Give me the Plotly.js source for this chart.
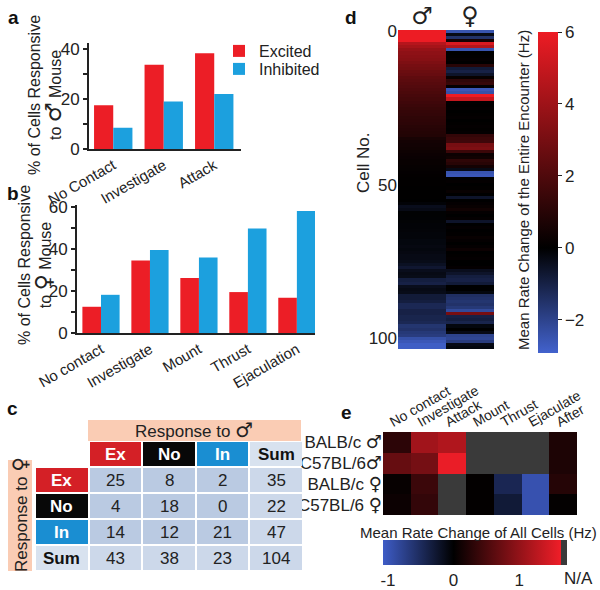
<!DOCTYPE html>
<html><head><meta charset="utf-8">
<script src="https://cdn.plot.ly/plotly-3.0.1.min.js"></script>
<style>body{margin:0;background:#fff}#chart{width:600px;height:590px}</style>
</head><body><div id="chart"></div>
<script>
// ---- Panel a: responses to male mouse (%) ----
const maleBehaviors = ['No Contact', 'Investigate', 'Attack'];
const maleExcited = [17.5, 33.7, 38.3];
const maleInhibited = [8.5, 19.0, 22.0];

// ---- Panel b: responses to female mouse (%) ----
const femaleBehaviors = ['No contact', 'Investigate', 'Mount', 'Thrust', 'Ejaculation'];
const femaleExcited = [12.5, 34.6, 26.2, 19.5, 16.8];
const femaleInhibited = [18.2, 39.5, 36.0, 49.8, 58.2];

// ---- Panel c: contingency table (rows: response to female, cols: response to male) ----
const responseLabels = ['Ex', 'No', 'In', 'Sum'];
const tableValues = [
  [25, 8, 2, 35],
  [4, 18, 0, 22],
  [14, 12, 21, 47],
  [43, 38, 23, 104]
];

// ---- Panel d: mean rate change per cell (Hz) ----
const cellMale = [
  6.5, 6.4, 6.2, 6.0, 4.6, 4.2, 3.8, 3.6, 3.5, 3.4,
  3.2, 3.0, 2.9, 2.7, 2.6, 2.4, 2.3, 2.2, 2.1, 2.0,
  1.9, 1.8, 1.7, 1.6, 1.5, 1.4, 1.35, 1.3, 1.2, 1.15,
  1.1, 1.0, 0.95, 0.9, 0.85, 0.6, 0.5, 0.45, 0.4, 0.35,
  0.3, 0.25, 0.2, 0.2, 0.15, 0.12, 0.1, 0.08, 0.06, 0.05,
  0.04, 0.03, 0.02, 0.02, 0.01, 0.0, -0.1, -0.4, -0.3, -0.05,
  -0.05, -0.06, -0.08, -0.1, -0.1, -0.12, -0.15, -0.15, -0.2, -0.2,
  -0.25, -0.2, -0.25, -0.3, -0.3, -0.35, -0.5, -0.7, -0.4, -0.3,
  -0.35, -0.9, -1.0, -0.4, -0.3, -0.35, -0.8, -0.8, -0.9, -1.2,
  -1.2, -1.0, -1.0, -1.1, -1.1, -1.2, -1.6, -1.5, -1.7, -1.8,
  -2.4, -2.6, -2.8, -2.8
];
const cellFemale = [
  -2.5, -0.3, -1.5, 0.5, 5.5, 4.5, -2.5, 0.0, 0.05, 0.1,
  0.0, 1.0, -0.8, -1.0, -0.6, 0.2, 1.2, 1.4, 0.1, -2.6,
  -2.4, 6.2, 5.0, 0.1, 0.05, 0.1, 0.0, 0.05, 0.1, 0.0,
  0.05, 0.1, 0.05, 0.1, 1.3, 1.5, 1.6, 3.0, 3.2, 1.5,
  0.3, 0.4, 1.2, 1.0, 0.5, -0.3, -2.5, -2.6, 0.0, 0.1,
  0.0, 0.05, 0.2, 0.0, -0.6, 0.0, 0.1, 0.2, 0.4, 0.1,
  0.0, 0.1, -0.6, 0.0, 0.1, 0.0, 0.05, 0.2, 0.1, 0.0,
  0.1, 0.3, 0.0, 0.05, 0.1, 0.0, 0.0, 0.1, -0.4, -0.6,
  -0.9, -1.0, -0.8, 0.0, 0.0, -0.2, -1.4, -1.5, -1.6, -1.5,
  -1.7, -2.2, 3.0, -1.0, -0.9, -1.1, -0.2, 0.0, -0.3, -2.0,
  -2.1, -1.8, -0.3, -0.2
];
const sexLabels = ['\u2642', '\u2640'];

// ---- Panel e: mean rate change of all cells (Hz), null = N/A ----
const strains = ['BALB/c \u2642', 'C57BL/6\u2642', 'BALB/c \u2640', 'C57BL/6 \u2640'];
const phases = ['No contact', 'Investigate', 'Attack', 'Mount', 'Thrust', 'Ejaculate', 'After'];
const phaseRates = [
  [0.3, 1.1, 1.2, null, null, null, 0.2],
  [0.7, 0.8, 1.6, null, null, null, 0.2],
  [0.05, 0.4, null, 0.02, -0.45, -0.95, 0.25],
  [0.08, 0.35, null, 0.02, -0.3, -0.95, 0.03]
];

// ---- styles ----
const RED = 'rgb(236,30,38)';
const BLUE = 'rgb(28,160,222)';
const FONT = 'Liberation Sans, Arial, sans-serif';
const TXT = '#222';
const px = v => v / 600;
const py = v => 1 - v / 590;
const sym = (s, size) => s.replace(/([\u2642\u2640])/g, '<span style="font-family:DejaVu Sans;font-size:' + size + 'px"><b>$1</b></span>');

const cellIdx = cellMale.map((_, i) => i);
const zCells = cellMale.map((m, i) => [m, cellFemale[i]]);
const naMask = phaseRates.map(r => r.map(v => v === null ? 1 : null));

// table grid (heatmap of cell kinds): 1 Ex, 2 No, 3 In, 4 Sum label, 5 body, 6 sum cell
const tCols = [''].concat(responseLabels);
const labelKind = [1, 2, 3, 4];
const tableKinds = tCols.map((_, r) => tCols.map((_, c) => {
  if (r === 0 && c === 0) return null;
  if (r === 0) return labelKind[c - 1];
  if (c === 0) return labelKind[r - 1];
  return (r === 4 || c === 4) ? 6 : 5;
}));
const tableText = [];
tCols.forEach((_, r) => tCols.forEach((_, c) => {
  if (r === 0 && c === 0) return;
  let txt, col;
  if (r === 0 || c === 0) {
    const lab = responseLabels[(r === 0 ? c : r) - 1];
    txt = '<b>' + lab + '</b>';
    col = lab === 'Sum' ? '#111' : 'white';
  } else {
    txt = String(tableValues[r - 1][c - 1]);
    col = TXT;
  }
  tableText.push({text: txt, x: c, y: r, xref: 'x5', yref: 'y5', showarrow: false,
    xanchor: 'center', yanchor: 'middle', font: {size: 17, color: col, family: FONT}});
}));

const traces = [
  {type: 'bar', x: maleBehaviors, y: maleExcited, name: 'Excited', marker: {color: RED}, xaxis: 'x', yaxis: 'y', legend: 'legend'},
  {type: 'bar', x: maleBehaviors, y: maleInhibited, name: 'Inhibited', marker: {color: BLUE}, xaxis: 'x', yaxis: 'y', legend: 'legend2'},
  {type: 'bar', x: femaleBehaviors, y: femaleExcited, name: 'Excited', marker: {color: RED}, xaxis: 'x2', yaxis: 'y2', showlegend: false},
  {type: 'bar', x: femaleBehaviors, y: femaleInhibited, name: 'Inhibited', marker: {color: BLUE}, xaxis: 'x2', yaxis: 'y2', showlegend: false},
  {type: 'heatmap', x: [0, 1], y: cellIdx, z: zCells, xaxis: 'x3', yaxis: 'y3', showlegend: false,
   zmin: -2.92, zmax: 6,
   colorscale: [[0, 'rgb(66,98,205)'], [0.327, 'rgb(0,0,0)'], [1, 'rgb(237,28,36)']],
   colorbar: {x: px(538), xanchor: 'left', y: py(192.5), yanchor: 'middle', len: 321 / 590, thickness: 20,
     xpad: 0, ypad: 0, outlinewidth: 0, ticks: 'outside', ticklen: 4, tickcolor: '#222',
     tickvals: [-2, 0, 2, 4, 6], ticktext: ['\u22122', '0', '2', '4', '6'],
     tickfont: {size: 17, color: TXT, family: FONT}},
   hoverinfo: 'skip'},
  {type: 'heatmap', x: phases, y: strains, z: phaseRates, xaxis: 'x4', yaxis: 'y4', showlegend: false,
   zmin: -1.076, zmax: 1.73,
   colorscale: [[0, 'rgb(62,92,198)'], [0.3835, 'rgb(0,0,0)'], [0.968, 'rgb(240,30,40)'], [0.968, 'rgb(58,58,58)'], [1, 'rgb(58,58,58)']],
   colorbar: {orientation: 'h', x: px(475), xanchor: 'center', y: py(540), yanchor: 'top', len: 184 / 600, thickness: 25,
     xpad: 0, ypad: 0, outlinewidth: 0, ticks: '', tickvals: [-1, 0, 1], ticktext: ['-1', '0', '1'],
     tickfont: {size: 17, color: TXT, family: FONT}},
   hoverinfo: 'skip'},
  {type: 'heatmap', x: phases, y: strains, z: naMask, xaxis: 'x4', yaxis: 'y4', showscale: false, showlegend: false,
   colorscale: [[0, 'rgb(58,58,58)'], [1, 'rgb(58,58,58)']], hoverinfo: 'skip'},
  {type: 'heatmap', z: tableKinds, xaxis: 'x5', yaxis: 'y5', showscale: false, showlegend: false, xgap: 2, ygap: 2,
   zmin: 1, zmax: 6,
   colorscale: [[0, 'rgb(212,32,38)'], [0.1, 'rgb(212,32,38)'], [0.1, 'rgb(8,8,8)'], [0.3, 'rgb(8,8,8)'],
     [0.3, 'rgb(26,142,210)'], [0.5, 'rgb(26,142,210)'], [0.5, 'rgb(216,226,239)'], [0.7, 'rgb(216,226,239)'],
     [0.7, 'rgb(186,202,226)'], [0.9, 'rgb(186,202,226)'], [0.9, 'rgb(204,216,234)'], [1, 'rgb(204,216,234)']],
   hoverinfo: 'skip'}
];

const barAxisY = {showline: true, linewidth: 2, linecolor: '#222', ticks: 'outside', ticklen: 4, tickwidth: 1.5, tickcolor: '#222',
  showgrid: false, zeroline: false, tickfont: {size: 17, color: TXT, family: FONT}};
const barAxisX = {showline: true, linewidth: 2, linecolor: '#222', ticks: '', showgrid: false, zeroline: false,
  tickangle: -30, tickfont: {size: 15, color: TXT, family: FONT}, type: 'category'};
const ann = (text, x, y, size, extra) => Object.assign({text: text, x: px(x), y: py(y), xref: 'paper', yref: 'paper',
  showarrow: false, xanchor: 'center', yanchor: 'middle', font: {size: size, color: TXT, family: FONT}}, extra || {});
const legendBase = {xanchor: 'left', yanchor: 'middle', font: {size: 16, color: TXT, family: FONT},
  bgcolor: 'rgba(0,0,0,0)', itemwidth: 30};

const layout = {
  width: 600, height: 590, margin: {l: 0, r: 0, t: 0, b: 0},
  paper_bgcolor: 'white', plot_bgcolor: 'rgba(0,0,0,0)',
  font: {family: FONT, color: TXT},
  barmode: 'group', bargap: 0.24, bargroupgap: 0,
  showlegend: true,
  legend: Object.assign({}, legendBase, {x: px(219), y: py(51)}),
  legend2: Object.assign({}, legendBase, {x: px(219), y: py(69)}),
  xaxis: Object.assign({}, barAxisX, {domain: [px(89), px(241)], anchor: 'y', range: [-0.48, 2.53]}),
  yaxis: Object.assign({}, barAxisY, {domain: [py(149), py(42.5)], anchor: 'x', range: [0, 42.6],
    tickvals: [0, 10, 20, 30, 40], ticktext: ['0', '', '20', '', '40']}),
  xaxis2: Object.assign({}, barAxisX, {domain: [px(77), px(315)], anchor: 'y2', range: [-0.49, 4.37]}),
  yaxis2: Object.assign({}, barAxisY, {domain: [py(333), py(205)], anchor: 'x2', range: [0, 61],
    tickvals: [0, 10, 20, 30, 40, 50, 60], ticktext: ['0', '', '20', '', '40', '', '60']}),
  xaxis3: {domain: [px(398), px(494)], anchor: 'y3', side: 'top', range: [-0.5, 1.5], tickvals: [0, 1], ticktext: sexLabels,
    ticks: '', showgrid: false, zeroline: false, showline: false, tickfont: {size: 24, color: TXT, family: 'DejaVu Sans'}},
  yaxis3: {domain: [py(349), py(30)], anchor: 'x3', range: [103.5, -0.5], tickvals: [0, 50, 100], ticks: '',
    showgrid: false, zeroline: false, showline: false, tickfont: {size: 17, color: TXT, family: FONT}},
  xaxis4: {domain: [px(383), px(577)], anchor: 'y4', side: 'top', tickangle: -30, ticks: '', showgrid: false, zeroline: false,
    ticklabelshift: -7, tickfont: {size: 14, color: TXT, family: FONT}},
  yaxis4: {domain: [py(515), py(432)], anchor: 'x4', autorange: 'reversed', ticks: '', showgrid: false, zeroline: false,
    tickvals: strains, ticktext: strains.map(s => sym(s, 18)), tickfont: {size: 17, color: TXT, family: FONT}},
  xaxis5: {domain: [px(35), px(303)], anchor: 'y5', range: [-0.5, 4.5], visible: false, showgrid: false, zeroline: false},
  yaxis5: {domain: [py(571), py(441)], anchor: 'x5', range: [4.5, -0.5], visible: false, showgrid: false, zeroline: false},
  shapes: [
    {type: 'rect', xref: 'paper', yref: 'paper', x0: px(88), x1: px(301), y0: py(441), y1: py(420), fillcolor: 'rgb(250,204,180)', line: {width: 0}},
    {type: 'rect', xref: 'paper', yref: 'paper', x0: px(8), x1: px(32), y0: py(571), y1: py(460), fillcolor: 'rgb(250,204,180)', line: {width: 0}}
  ],
  annotations: [
    ann('<b>a</b>', 13, 18, 19, {font: {size: 19, color: '#111', family: FONT}}),
    ann('<b>b</b>', 13, 193, 19, {font: {size: 19, color: '#111', family: FONT}}),
    ann('<b>c</b>', 12, 409, 19, {font: {size: 19, color: '#111', family: FONT}}),
    ann('<b>d</b>', 351, 18, 19, {font: {size: 19, color: '#111', family: FONT}}),
    ann('<b>e</b>', 346, 412, 19, {font: {size: 19, color: '#111', family: FONT}}),
    ann('% of Cells Responsive<br>to ' + sym('\u2642', 22) + ' Mouse', 46, 95, 16, {textangle: -90}),
    ann('% of Cells Responsive<br>to ' + sym('\u2640', 22) + ' Mouse', 36, 265, 16, {textangle: -90}),
    ann('Response to ' + sym('\u2642', 20), 194, 430, 17),
    ann('Response to ' + sym('\u2640', 20), 20, 515, 17, {textangle: -90}),
    ann('Cell No.', 364, 163, 17, {textangle: -90}),
    ann('Mean Rate Change of the Entire Encounter (Hz)', 523, 190, 15, {textangle: -90}),
    ann('Mean Rate Change of All Cells (Hz)', 478, 532, 15),
    ann('N/A', 578, 578, 17)
  ].concat(tableText)
};

Plotly.newPlot('chart', traces, layout, {staticPlot: true, displayModeBar: false});
</script>
</body></html>
